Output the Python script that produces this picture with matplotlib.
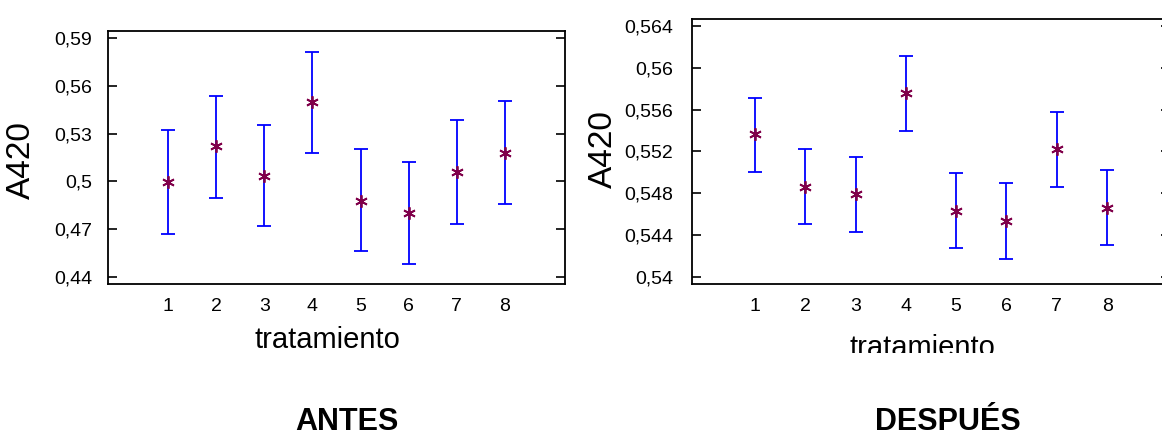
import matplotlib
matplotlib.use("Agg")
import matplotlib.pyplot as plt
from matplotlib.ticker import FuncFormatter
from matplotlib.patches import Rectangle

plt.rcParams['font.family'] = ['Liberation Sans', 'DejaVu Sans']

tratamiento = [1, 2, 3, 4, 5, 6, 7, 8]

# ANTES: medias e intervalos
antes_media = [0.4995, 0.5222, 0.5034, 0.5501, 0.4876, 0.4799, 0.5059, 0.5176]
antes_inf = [0.4671, 0.4897, 0.4717, 0.5176, 0.4564, 0.4480, 0.4734, 0.4859]
antes_sup = [0.5323, 0.5537, 0.5357, 0.5816, 0.5206, 0.5122, 0.5386, 0.5503]
antes_yticks = [0.44, 0.47, 0.50, 0.53, 0.56, 0.59]

# DESPUES
desp_media = [0.55366, 0.54862, 0.54788, 0.55755, 0.54632, 0.54533, 0.55222, 0.54661]
desp_inf = [0.55005, 0.54504, 0.54431, 0.55395, 0.54275, 0.54172, 0.54862, 0.54303]
desp_sup = [0.55707, 0.55219, 0.55149, 0.56113, 0.54993, 0.54894, 0.55580, 0.55021]
desp_yticks = [0.540, 0.544, 0.548, 0.552, 0.556, 0.560, 0.564]


def coma(v, pos=None):
    return ('%g' % round(v, 4)).replace('.', ',')


def panel(ax, media, inf, sup, yticks, ylim, pad):
    err = [[m - lo for m, lo in zip(media, inf)], [hi - m for m, hi in zip(media, sup)]]
    ax.errorbar(tratamiento, media, yerr=err, fmt='none', ecolor='#0000ff',
                elinewidth=1.3, capsize=5, capthick=1.3, zorder=2)
    ax.plot(tratamiento, media, linestyle='none', marker=(6, 2, 0), markersize=9,
            mew=1.3, color='#80004a', zorder=3)
    ax.set_xlim(-0.25, 9.25)
    ax.set_ylim(*ylim)
    ax.set_xticks(tratamiento)
    ax.set_yticks(yticks)
    ax.yaxis.set_major_formatter(FuncFormatter(coma))
    ax.tick_params(axis='y', direction='in', length=6.5, width=1.2, left=True,
                   right=True, labelsize=14, pad=pad)
    ax.tick_params(axis='x', length=0, labelsize=14, pad=10)
    for s in ax.spines.values():
        s.set_linewidth(1.3)
    ax.set_ylabel('A420', fontsize=24)
    ax.set_xlabel('tratamiento', fontsize=21, va='baseline')


fig = plt.figure(figsize=(11.62, 4.37), dpi=100)

ax1 = fig.add_axes([108 / 1162, 153 / 437, 457 / 1162, 253 / 437])
panel(ax1, antes_media, antes_inf, antes_sup, antes_yticks, (0.4354, 0.5946), 11.5)
ax1.yaxis.set_label_coords(-0.155, 0.49)
ax1.xaxis.set_label_coords(0.481, -0.253)

ax2 = fig.add_axes([692 / 1162, 153 / 437, 478 / 1162, 265 / 437])
panel(ax2, desp_media, desp_inf, desp_sup, desp_yticks, (0.5393, 0.56467), 13.7)
ax2.yaxis.set_label_coords(-0.153, 0.51)
ax2.xaxis.set_label_coords(0.483, -0.27)

# the right panel's label is cut off at the bottom in the original
fig.patches.append(Rectangle((585 / 1162, 0.1), 577 / 1162, (437 - 353) / 437 - 0.1,
                             transform=fig.transFigure, facecolor='white',
                             edgecolor='none', zorder=10))

fig.text(347 / 1162, 0.5 / 437, 'ANTES', fontsize=22, fontweight='bold',
         ha='center', va='bottom')
fig.text(948 / 1162, 0.5 / 437, 'DESPUÉS', fontsize=22, fontweight='bold',
         ha='center', va='bottom')

fig.savefig('out.png', dpi=100)
